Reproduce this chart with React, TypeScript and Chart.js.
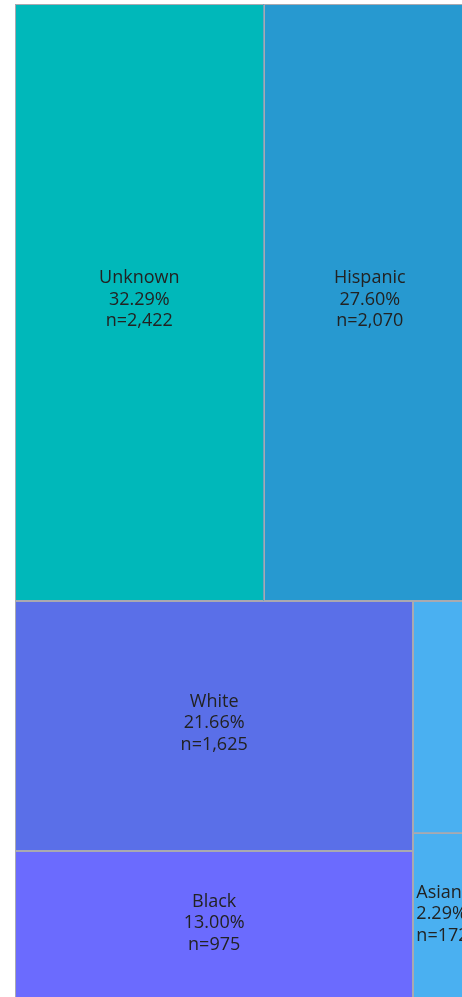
import React, { useEffect, useRef } from "react";
import { Chart, registerables } from "chart.js";

Chart.register(...registerables);

// ---- Data ----
const categories = ["Unknown", "Hispanic", "White", "Black", "Other", "Asian"];
const counts = [2422, 2070, 1625, 975, 237, 172];
const colors = ["#00B8BA", "#2799D0", "#5A6FE8", "#6B6BFE", "#4AB0F1", "#4AB0F1"];
const hiddenLabels = ["Other"];

const total = counts.reduce((a, b) => a + b, 0);
const percentLabels = counts.map((c) => ((c / total) * 100).toFixed(2) + "%");
const countLabels = counts.map((c) => "n=" + c.toLocaleString("en-US"));

type Rect = { x0: number; y0: number; x1: number; y1: number };

// d3-style squarified treemap (golden ratio)
function squarify(values: number[], W: number, H: number): Rect[] {
  const ratio = (1 + Math.sqrt(5)) / 2;
  const rects: Rect[] = [];
  let x0 = 0, y0 = 0;
  const x1 = W, y1 = H;
  let value = values.reduce((a, b) => a + b, 0);
  let i0 = 0, i1 = 0;
  const n = values.length;
  while (i0 < n) {
    const dx = x1 - x0, dy = y1 - y0;
    let sumValue = values[i1++];
    let minValue = sumValue, maxValue = sumValue;
    const alpha = Math.max(dy / dx, dx / dy) / (value * ratio);
    let beta = sumValue * sumValue * alpha;
    let minRatio = Math.max(maxValue / beta, beta / minValue);
    for (; i1 < n; ++i1) {
      const nv = values[i1];
      sumValue += nv;
      if (nv < minValue) minValue = nv;
      if (nv > maxValue) maxValue = nv;
      beta = sumValue * sumValue * alpha;
      const newRatio = Math.max(maxValue / beta, beta / minValue);
      if (newRatio > minRatio) {
        sumValue -= nv;
        break;
      }
      minRatio = newRatio;
    }
    if (dx < dy) {
      const ny = y0 + (dy * sumValue) / value;
      let cx = x0;
      for (let k = i0; k < i1; k++) {
        const w = ((x1 - x0) * values[k]) / sumValue;
        rects[k] = { x0: cx, y0: y0, x1: cx + w, y1: ny };
        cx += w;
      }
      y0 = ny;
    } else {
      const nx = x0 + (dx * sumValue) / value;
      let cy = y0;
      for (let k = i0; k < i1; k++) {
        const h = ((y1 - y0) * values[k]) / sumValue;
        rects[k] = { x0: x0, y0: cy, x1: nx, y1: cy + h };
        cy += h;
      }
      x0 = nx;
    }
    value -= sumValue;
    i0 = i1;
  }
  return rects;
}

const treemapPlugin = {
  id: "treemapCells",
  afterDatasetsDraw(chart: any) {
    const { ctx, chartArea, scales } = chart;
    const W = chartArea.right - chartArea.left;
    const H = chartArea.bottom - chartArea.top;
    const rects = squarify(counts, W, H);
    const xs = scales.x;
    const ys = scales.y;
    const boxes = rects.map((r) => {
      const px0 = xs.getPixelForValue(r.x0 / W);
      const px1 = xs.getPixelForValue(r.x1 / W);
      const py0 = ys.getPixelForValue(r.y0 / H);
      const py1 = ys.getPixelForValue(r.y1 / H);
      return {
        left: Math.min(px0, px1),
        right: Math.max(px0, px1),
        top: Math.min(py0, py1),
        bottom: Math.max(py0, py1),
      };
    });
    ctx.save();
    boxes.forEach((b, i) => {
      ctx.fillStyle = colors[i];
      ctx.fillRect(b.left, b.top, b.right - b.left, b.bottom - b.top);
      ctx.strokeStyle = "#A9A9B0";
      ctx.lineWidth = 1;
      ctx.strokeRect(
        Math.round(b.left) + 0.5,
        Math.round(b.top) + 0.5,
        Math.round(b.right - b.left) - 1,
        Math.round(b.bottom - b.top) - 1
      );
    });
    boxes.forEach((b, i) => {
      if (hiddenLabels.includes(categories[i])) return;
      const lines = [categories[i], percentLabels[i], countLabels[i]];
      ctx.font = "18px 'Open Sans'";
      ctx.fillStyle = "#222";
      ctx.textBaseline = "middle";
      const narrow = b.right - b.left < 90;
      ctx.textAlign = narrow ? "left" : "center";
      const tx = narrow ? b.left + 3 : (b.left + b.right) / 2;
      const cy = (b.top + b.bottom) / 2 - 3;
      const lh = 21.5;
      lines.forEach((t, j) => {
        ctx.fillText(t, tx, cy + (j - 1) * lh);
      });
    });
    ctx.restore();
  },
};

export default function App() {
  const ref = useRef<HTMLCanvasElement | null>(null);
  useEffect(() => {
    if (!ref.current) return;
    const chart = new Chart(ref.current, {
      type: "scatter",
      data: {
        datasets: [
          {
            label: "cells",
            data: [],
            pointRadius: 0,
          },
        ],
      },
      options: {
        animation: false,
        responsive: false,
        devicePixelRatio: 1,
        layout: { padding: 0 },
        plugins: { legend: { display: false }, tooltip: { enabled: false } },
        scales: {
          x: { type: "linear", min: 0, max: 1, display: false },
          y: { type: "linear", min: 0, max: 1, reverse: true, display: false },
        },
      },
      plugins: [treemapPlugin],
    });
    return () => chart.destroy();
  }, []);
  return (
    <div style={{ position: "fixed", left: 0, top: 0, width: 462, height: 997, overflow: "hidden", background: "#fff" }}>
      <canvas ref={ref} width={461} height={997} style={{ position: "absolute", left: 15, top: 4, width: 461, height: 997 }} />
    </div>
  );
}
